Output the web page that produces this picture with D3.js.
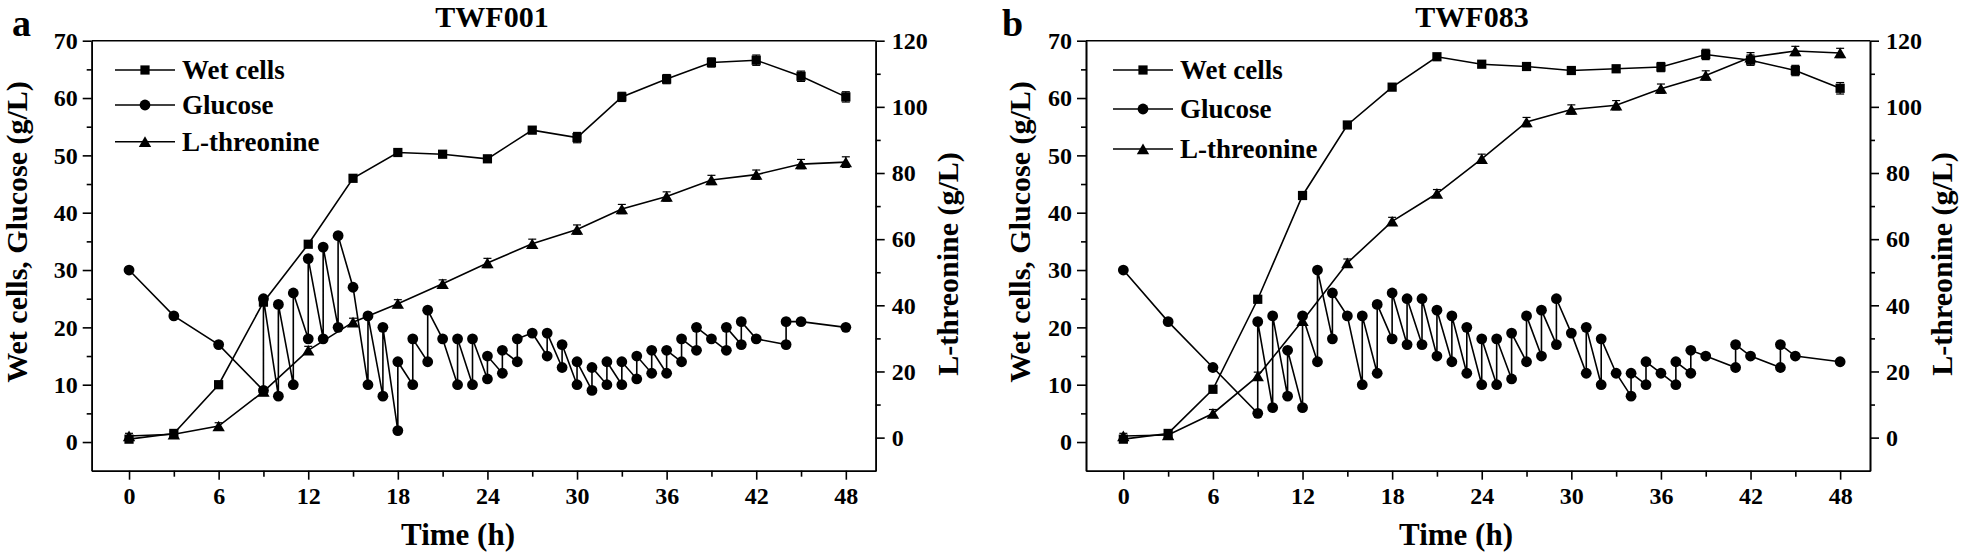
<!DOCTYPE html>
<html>
<head>
<meta charset="utf-8">
<script src="https://cdn.jsdelivr.net/npm/d3@7"></script>
<style>
  body { margin: 0; background: #fff; }
  text { font-family: "Liberation Serif", "Times New Roman", serif; font-weight: bold; fill: #000; }
</style>
</head>
<body>
<script>
// sampling times for wet cells and L-threonine (h)
const sampleTimes = [0, 3, 6, 9, 12, 15, 18, 21, 24, 27, 30, 33, 36, 39, 42, 45, 48];

// TWF001
const wetA = [0.5, 1.5, 10, 24.4, 34.5, 46, 50.5, 50.2, 49.4, 54.4, 53.1, 60.2, 63.3, 66.2, 66.6, 63.8, 60.2];
const wetErrA = [0.3, 0.3, 0.3, 0.4, 0.4, 0.4, 0.4, 0.4, 0.5, 0.5, 0.9, 0.8, 0.8, 0.8, 0.9, 0.9, 0.9];
const thrA = [0.5, 1, 3.5, 13.9, 26.4, 34.9, 40.5, 46.5, 52.8, 58.6, 62.9, 69.1, 72.9, 77.9, 79.5, 82.7, 83.3];
const thrErrA = [0.8, 1, 1, 1.2, 1.2, 1.2, 1.2, 1.2, 1.4, 1.4, 1.4, 1.4, 1.4, 1.4, 1.4, 1.4, 1.6];
const glcTimeA = [0, 3, 6, 9, 9, 10, 10, 11, 11, 12, 12, 13, 13, 14, 14, 15, 16, 16, 17, 17,
  18, 18, 19, 19, 20, 20, 21, 22, 22, 23, 23, 24, 24, 25, 25, 26, 26, 27, 28, 28,
  29, 29, 30, 30, 31, 31, 32, 32, 33, 33, 34, 34, 35, 35, 36, 36, 37, 37, 38, 38,
  39, 40, 40, 41, 41, 42, 44, 44, 45, 48];
const glcA = [30, 22, 17, 9, 25, 8, 24, 10, 26, 18, 32, 18, 34, 20, 36, 27, 10, 22, 8, 20,
  2, 14, 10, 18, 14, 23, 18, 10, 18, 10, 18, 11, 15, 12, 16, 14, 18, 19, 15, 19,
  13, 17, 10, 14, 9, 13, 10, 14, 10, 14, 11, 15, 12, 16, 12, 16, 14, 18, 16, 20,
  18, 16, 20, 17, 21, 18, 17, 21, 21, 20];

// TWF083
const wetB = [0.5, 1.5, 9.2, 24.9, 43, 55.3, 61.9, 67.2, 65.9, 65.5, 64.8, 65.1, 65.4, 67.6, 66.6, 64.8, 61.7];
const wetErrB = [0.3, 0.3, 0.4, 0.4, 0.4, 0.4, 0.4, 0.4, 0.5, 0.5, 0.5, 0.6, 0.8, 0.9, 0.9, 0.9, 1.0];
const thrB = [0.5, 0.8, 7.3, 18.6, 35.3, 52.8, 65.4, 73.8, 84.3, 95.4, 99.2, 100.5, 105.5, 109.5, 115, 116.9, 116.3];
const thrErrB = [0.8, 1, 1.2, 1.2, 1.2, 1.2, 1.2, 1.2, 1.4, 1.4, 1.4, 1.4, 1.4, 1.4, 1.4, 1.4, 1.4];
const glcTimeB = [0, 3, 6, 9, 9, 10, 10, 11, 11, 12, 12, 13, 13, 14, 14, 15, 16, 16, 17, 17,
  18, 18, 19, 19, 20, 20, 21, 21, 22, 22, 23, 23, 24, 24, 25, 25, 26, 26, 27, 27,
  28, 28, 29, 29, 30, 31, 31, 32, 32, 33, 34, 34, 35, 35, 36, 37, 37, 38, 38, 39,
  41, 41, 42, 44, 44, 45, 48];
const glcB = [30, 21, 13, 5, 21, 6, 22, 8, 16, 6, 22, 14, 30, 18, 26, 22, 10, 22, 12, 24,
  18, 26, 17, 25, 17, 25, 15, 23, 14, 22, 12, 20, 10, 18, 10, 18, 11, 19, 14, 22,
  15, 23, 17, 25, 19, 12, 20, 10, 18, 12, 8, 12, 10, 14, 12, 10, 14, 12, 16, 15,
  13, 17, 15, 13, 17, 15, 14];

// axes ticks
const timeTicks = [0, 6, 12, 18, 24, 30, 36, 42, 48];
const timeMinor = [3, 9, 15, 21, 27, 33, 39, 45];
const leftTicks = [0, 10, 20, 30, 40, 50, 60, 70];
const leftMinor = [5, 15, 25, 35, 45, 55, 65];
const rightTicks = [0, 20, 40, 60, 80, 100, 120];
const rightMinor = [10, 30, 50, 70, 90, 110];
const legendNames = ["Wet cells", "Glucose", "L-threonine"];

const svg = d3.select("body").append("svg")
  .attr("width", 1961)
  .attr("height", 556);

const plotTop = 40.7, plotBottom = 470.7;

const panels = [
  { letter: "a", title: "TWF001", left: 91.7, right: 875.7,
    wet: wetA, wetErr: wetErrA, thr: thrA, thrErr: thrErrA, glcT: glcTimeA, glc: glcA,
    letterX: 12, titleX: 492, timeX: 458, leftLabelX: 27, rightLabelX: 958,
    legend: { x0: 115, x1: 175, tx: 182, rows: [70, 105, 141.7] } },
  { letter: "b", title: "TWF083", left: 1086, right: 1870,
    wet: wetB, wetErr: wetErrB, thr: thrB, thrErr: thrErrB, glcT: glcTimeB, glc: glcB,
    letterX: 1002, titleX: 1472, timeX: 1456, leftLabelX: 1030, rightLabelX: 1952,
    legend: { x0: 1113, x1: 1173, tx: 1180, rows: [70, 109, 149] } }
];

const square = d3.symbol().type(d3.symbolSquare).size(85);
// triangle centred on its bounding box, side ~12px
const triangle = () => "M0,-5.4L6.2,5.2L-6.2,5.2Z";

panels.forEach(p => {
  const g = svg.append("g");
  const x = d3.scaleLinear().domain([-2.5, 50]).range([p.left, p.right]);
  const yL = d3.scaleLinear().domain([-5, 70]).range([plotBottom, plotTop]);
  const yR = d3.scaleLinear().domain([-10, 120]).range([plotBottom, plotTop]);

  // axes
  const styleAxis = sel => {
    sel.attr("font-family", null);
    sel.selectAll("path, line").attr("stroke", "#000").attr("stroke-width", 1.6);
    sel.selectAll("text").style("font-size", "24px");
  };

  g.append("g").attr("transform", `translate(0,${plotBottom})`)
    .call(d3.axisBottom(x).tickValues(timeMinor).tickSize(6).tickSizeOuter(0).tickFormat(""))
    .call(styleAxis);
  g.append("g").attr("transform", `translate(0,${plotBottom})`)
    .call(d3.axisBottom(x).tickValues(timeTicks).tickSize(9).tickSizeOuter(0).tickPadding(7))
    .call(styleAxis);

  g.append("g").attr("transform", `translate(${p.left},0)`)
    .call(d3.axisLeft(yL).tickValues(leftMinor).tickSize(5).tickSizeOuter(0).tickFormat(""))
    .call(styleAxis);
  g.append("g").attr("transform", `translate(${p.left},0)`)
    .call(d3.axisLeft(yL).tickValues(leftTicks).tickSize(9).tickSizeOuter(0).tickPadding(5))
    .call(styleAxis);

  g.append("g").attr("transform", `translate(${p.right},0)`)
    .call(d3.axisRight(yR).tickValues(rightMinor).tickSize(5).tickSizeOuter(0).tickFormat(""))
    .call(styleAxis);
  g.append("g").attr("transform", `translate(${p.right},0)`)
    .call(d3.axisRight(yR).tickValues(rightTicks).tickSize(9).tickSizeOuter(0).tickPadding(7))
    .call(styleAxis);

  // top frame line
  g.append("line")
    .attr("x1", p.left).attr("x2", p.right)
    .attr("y1", plotTop).attr("y2", plotTop)
    .attr("stroke", "#000").attr("stroke-width", 1.6);

  const line = d3.line();

  // glucose
  const glcPts = p.glc.map((v, i) => [x(p.glcT[i]), yL(v)]);
  g.append("path").attr("d", line(glcPts))
    .attr("fill", "none").attr("stroke", "#000").attr("stroke-width", 1.6);

  // wet cells and threonine
  const wetPts = p.wet.map((v, i) => [x(sampleTimes[i]), yL(v)]);
  const thrPts = p.thr.map((v, i) => [x(sampleTimes[i]), yR(v)]);
  g.append("path").attr("d", line(wetPts))
    .attr("fill", "none").attr("stroke", "#000").attr("stroke-width", 1.6);
  g.append("path").attr("d", line(thrPts))
    .attr("fill", "none").attr("stroke", "#000").attr("stroke-width", 1.6);

  // error bars
  const errBars = (vals, errs, y) => {
    vals.forEach((v, i) => {
      const cx = x(sampleTimes[i]);
      const y1 = y(v - errs[i]), y2 = y(v + errs[i]);
      g.append("line").attr("x1", cx).attr("x2", cx).attr("y1", y1).attr("y2", y2)
        .attr("stroke", "#000").attr("stroke-width", 1.2);
      [y1, y2].forEach(yy => g.append("line")
        .attr("x1", cx - 4).attr("x2", cx + 4).attr("y1", yy).attr("y2", yy)
        .attr("stroke", "#000").attr("stroke-width", 1.2));
    });
  };
  errBars(p.wet, p.wetErr, yL);
  errBars(p.thr, p.thrErr, yR);

  g.selectAll(".glc").data(glcPts).enter().append("circle")
    .attr("cx", d => d[0]).attr("cy", d => d[1]).attr("r", 5.4).attr("fill", "#000");
  g.selectAll(".wet").data(wetPts).enter().append("path")
    .attr("d", square).attr("transform", d => `translate(${d[0]},${d[1]})`).attr("fill", "#000");
  g.selectAll(".thr").data(thrPts).enter().append("path")
    .attr("d", triangle).attr("transform", d => `translate(${d[0]},${d[1]})`).attr("fill", "#000");

  // legend
  const lg = p.legend;
  const legendMarks = [square, null, triangle];
  lg.rows.forEach((ry, i) => {
    g.append("line").attr("x1", lg.x0).attr("x2", lg.x1).attr("y1", ry).attr("y2", ry)
      .attr("stroke", "#000").attr("stroke-width", 1.6);
    const mx = (lg.x0 + lg.x1) / 2;
    if (i === 1) {
      g.append("circle").attr("cx", mx).attr("cy", ry).attr("r", 5.4).attr("fill", "#000");
    } else {
      g.append("path").attr("d", legendMarks[i]).attr("transform", `translate(${mx},${ry})`).attr("fill", "#000");
    }
    g.append("text").attr("x", lg.tx).attr("y", ry + 9)
      .style("font-size", "27px").text(legendNames[i]);
  });

  // titles and labels
  g.append("text").attr("x", p.letterX).attr("y", 36).style("font-size", "38px").text(p.letter);
  g.append("text").attr("x", p.titleX).attr("y", 27).attr("text-anchor", "middle")
    .style("font-size", "30px").text(p.title);
  g.append("text").attr("x", p.timeX).attr("y", 545).attr("text-anchor", "middle")
    .style("font-size", "31px").text("Time (h)");
  g.append("text").attr("transform", `translate(${p.leftLabelX},232) rotate(-90)`)
    .attr("text-anchor", "middle").style("font-size", "30px").text("Wet cells, Glucose (g/L)");
  g.append("text").attr("transform", `translate(${p.rightLabelX},264) rotate(-90)`)
    .attr("text-anchor", "middle").style("font-size", "30px").text("L-threonine (g/L)");
});
</script>
</body>
</html>
